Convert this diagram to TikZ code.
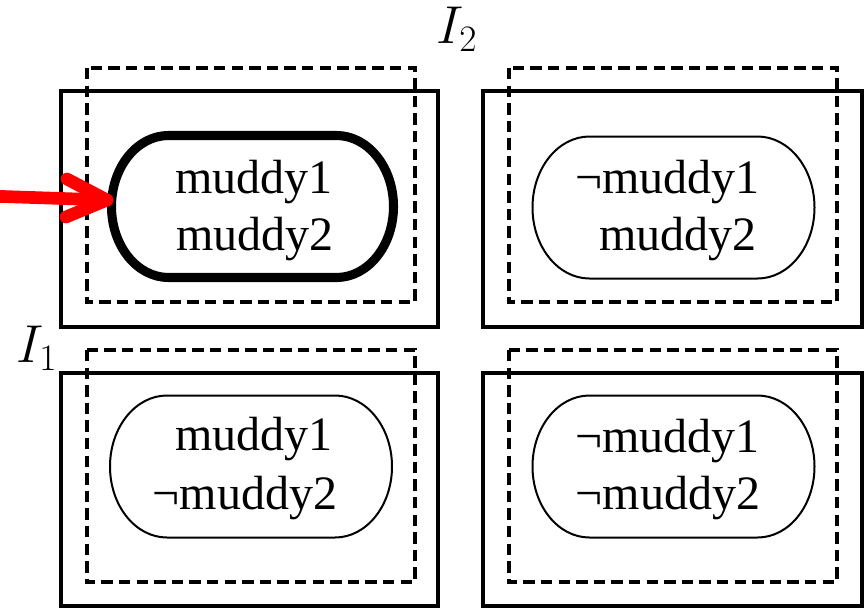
\documentclass[tikz,border=0pt]{standalone}
\usepackage{fix-cm}
\usepackage{fontspec}
\setmainfont{Liberation Serif}
\begin{document}
\begin{tikzpicture}[x=0.75pt,y=-0.75pt,
  solidbox/.style={draw=black,line width=2.6pt},
  dashbox/.style={draw=black,line width=2.5pt,dash pattern=on 8.5pt off 4.7pt},
  thinedge/.style={draw=black,line width=1.5pt},
  thickedge/.style={draw=black,line width=6.8pt},
  wline/.style={font=\fontsize{36}{43}\selectfont,inner sep=0pt,anchor=base},
  ilabel/.style={font=\fontsize{40}{48}\selectfont,inner sep=0pt,anchor=base west},
  redarrow/.style={draw={rgb,255:red,255;green,0;blue,0},line width=9.5pt,line cap=round,line join=round},
]
\useasboundingbox (0,0) rectangle (865,608);
\newcommand\stadiumpath[3]{%
  \draw[#3] ({#1-84},{#2-71}) -- ({#1+84},{#2-71})
    arc[start angle=-90,end angle=90,x radius=57,y radius=71]
    -- ({#1-84},{#2+71})
    arc[start angle=90,end angle=270,x radius=57,y radius=71] -- cycle;}

% solid and dashed boxes
\draw[solidbox] (61,91) rectangle (438,327);
\draw[solidbox] (483,91) rectangle (862,327);
\draw[solidbox] (61,373) rectangle (438,606);
\draw[solidbox] (483,373) rectangle (862,606);
\draw[dashbox] (87,68) rectangle (415,302);
\draw[dashbox] (509,68) rectangle (837,302);
\draw[dashbox] (87,350) rectangle (415,582);
\draw[dashbox] (509,350) rectangle (837,582);

% worlds
\stadiumpath{252.5}{206.5}{thickedge}
\stadiumpath{673.5}{207.5}{thinedge}
\stadiumpath{251}{466.5}{thinedge}
\stadiumpath{673.5}{466.5}{thinedge}

\node[wline] (tl1) at (254,193) {muddy1};
\node[wline] (tl2) at (255,250) {muddy2};
\node[wline] (tr1) at (667.5,193) {¬muddy1};
\node[wline] (tr2) at (678,250) {muddy2};
\node[wline] (bl1) at (254,450) {muddy1};
\node[wline] (bl2) at (245,509) {¬muddy2};
\node[wline] (br1) at (667.5,452) {¬muddy1};
\node[wline] (br2) at (668,509) {¬muddy2};

\node[ilabel] (i2) at (436,43) {$I_2$};
\node[ilabel] (i1) at (16,362) {$I_1$};

% red arrow
\coordinate (tail) at (-12,196);
\coordinate (tip) at (107,200);
\coordinate (wingA) at (67,179);
\coordinate (wingB) at (66,217);
\draw[redarrow] (tail) -- (tip);
\draw[redarrow] (wingA) -- (tip) -- (wingB);
\end{tikzpicture}
\end{document}
